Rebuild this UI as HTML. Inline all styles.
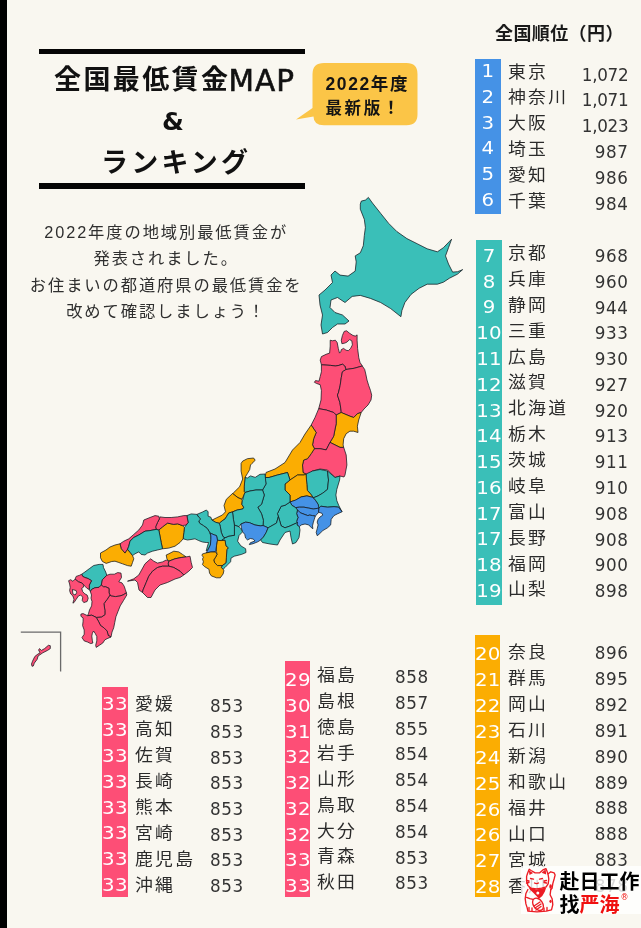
<!DOCTYPE html>
<html lang="ja"><head><meta charset="utf-8"><title>全国最低賃金MAP &amp; ランキング</title>
<style>
*{margin:0;padding:0;box-sizing:border-box}
html,body{width:641px;height:928px;overflow:hidden;background:#f9f7f0}
body{position:relative;font-family:"Liberation Sans","Noto Sans CJK JP",sans-serif;color:#333333}
.abs{position:absolute}
.bar{position:absolute}
.rk{position:absolute;color:#fff;text-align:center;font-size:17.5px;height:20px;line-height:20px;font-family:"DejaVu Sans",sans-serif;letter-spacing:0.3px;text-indent:0.3px;white-space:nowrap;transform:scaleX(1.13)}
.nm{position:absolute;font-size:16.5px;height:20px;line-height:20px;letter-spacing:2.1px;white-space:nowrap;color:#2b2b2b;font-weight:400;transform:scaleX(1.08);transform-origin:0 0}
.nv{position:absolute;font-size:16.8px;height:20px;line-height:20px;font-family:"DejaVu Sans",sans-serif;white-space:nowrap;color:#333;text-align:right;letter-spacing:0.5px}
.nv.style2{letter-spacing:-0.3px}
.ttl{position:absolute;font-weight:bold;color:#111;white-space:nowrap}
.rule{position:absolute;background:#050505}
.intro{position:absolute;left:18.2px;top:219px;width:296px;text-align:center;font-size:16.3px;line-height:26.3px;letter-spacing:1.9px;color:#2f2f2f}
</style></head><body>
<div class="abs" style="left:0;top:0;width:7.4px;height:928px;background:#000"></div>
<svg class="abs" style="left:0;top:0" width="641" height="928" viewBox="0 0 641 928">
<g stroke="#10161c" stroke-opacity="0.78" stroke-width="0.95" stroke-linejoin="round">
<path fill="#3abfb8" d="M361.3 201.1 L365.4 200.1 L368.4 197.4 L372.5 203.1 L380.6 213.3 L388.7 223.4 L396.8 231.5 L406.9 238.6 L417.1 243.7 L427.2 248.8 L437.4 251.8 L443.4 247.7 L451.6 239.2 L448.5 247.7 L445.5 255.9 L448.5 264.0 L452.6 272.1 L457.6 271.7 L462.7 269.6 L457.6 274.1 L449.5 278.2 L443.4 282.2 L437.4 284.2 L427.2 284.2 L419.1 288.3 L411.0 294.4 L404.9 302.5 L401.9 310.6 L400.9 316.7 L390.7 308.6 L380.6 302.5 L370.4 298.4 L360.3 295.4 L352.2 296.4 L345.0 302.5 L337.5 297.5 L331.0 300.0 L330.0 307.5 L335.0 312.5 L342.5 315.0 L349.0 321.0 L345.0 324.0 L337.5 324.0 L332.5 327.5 L327.5 332.5 L322.5 334.0 L321.0 325.0 L322.5 315.0 L320.0 305.0 L319.0 295.0 L325.0 290.0 L332.5 282.5 L331.0 275.0 L335.0 271.0 L340.0 275.1 L348.1 276.1 L355.2 271.1 L356.2 261.9 L355.2 255.9 L360.3 252.8 L363.3 245.7 L364.3 235.6 L365.4 227.5 L364.3 219.3 L360.3 209.2 L360.3 204.1Z"/>
<path fill="#fd4e76" d="M321.4 364.8 L320.2 360.1 L321.4 356.6 L326.1 354.3 L329.6 353.1 L330.2 346.1 L330.2 340.2 L332.5 340.8 L335.4 340.2 L337.2 342.6 L338.3 348.4 L339.5 353.1 L340.7 351.9 L341.3 349.6 L343.6 348.4 L346.0 350.2 L348.3 350.7 L350.6 348.4 L352.4 344.9 L351.8 340.8 L349.5 339.6 L347.1 342.0 L344.8 343.1 L341.9 343.7 L341.3 340.2 L342.4 335.5 L344.2 331.4 L346.5 330.8 L349.5 333.2 L353.0 335.5 L355.3 336.1 L357.1 334.9 L357.1 340.2 L357.6 348.4 L358.8 357.8 L360.0 362.4 L362.3 366.0 L354.1 368.3 L346.0 369.5 L344.8 366.0 L342.4 364.2 L338.9 365.4 L335.4 366.0 L330.7 365.4Z"/>
<path fill="#fd4e76" d="M321.4 364.8 L330.7 365.4 L335.4 366.0 L338.9 365.4 L342.4 364.2 L344.8 366.0 L346.0 369.5 L342.4 371.8 L341.3 377.6 L340.1 385.8 L338.4 392.9 L337.4 395.0 L339.9 402.5 L341.2 411.2 L341.2 412.5 L336.2 415.0 L333.7 412.5 L326.2 410.0 L318.7 408.7 L321.0 400.0 L321.4 390.5 L320.2 384.7 L316.7 383.5 L314.4 382.3 L315.5 380.6 L319.0 381.2 L320.2 376.5 L321.4 371.8Z"/>
<path fill="#fd4e76" d="M346.0 369.5 L354.1 368.3 L362.3 366.0 L364.7 369.5 L365.8 374.1 L367.0 380.0 L368.8 385.8 L370.5 390.5 L371.7 395.2 L371.0 400.0 L368.0 405.0 L364.0 409.0 L361.2 412.5 L357.4 413.7 L353.7 417.5 L349.9 416.2 L341.2 412.5 L341.2 411.2 L339.9 402.5 L337.4 395.0 L338.4 392.9 L340.1 385.8 L341.3 377.6 L342.4 371.8Z"/>
<path fill="#fbad02" d="M336.2 415.0 L341.2 412.5 L349.9 416.2 L353.7 417.5 L357.4 413.7 L361.2 412.5 L358.7 420.0 L357.4 426.2 L358.0 432.5 L353.7 431.2 L349.9 431.2 L346.2 433.7 L343.7 438.7 L343.1 444.9 L343.7 447.4 L340.0 447.4 L335.0 444.9 L330.0 442.4 L333.7 436.2 L334.9 429.9 L336.2 423.7Z"/>
<path fill="#fd4e76" d="M318.7 408.7 L326.2 410.0 L333.7 412.5 L336.2 415.0 L336.2 423.7 L334.9 429.9 L333.7 436.2 L330.0 442.4 L326.2 449.9 L320.0 448.7 L314.4 448.7 L312.5 444.9 L313.7 438.7 L316.2 432.5 L311.2 425.0 L315.0 417.5Z"/>
<path fill="#fd4e76" d="M314.4 448.7 L320.0 448.7 L326.2 449.9 L330.0 442.4 L335.0 444.9 L340.0 447.4 L343.7 447.4 L346.2 455.0 L346.9 465.0 L345.0 475.0 L344.0 477.0 L340.0 476.0 L335.0 477.5 L327.5 470.0 L320.0 469.0 L312.5 471.0 L307.5 475.0 L303.0 472.5 L302.5 465.0 L303.7 460.0 L307.5 458.7 L311.2 453.7Z"/>
<path fill="#fbad02" d="M311.2 425.0 L316.2 432.5 L313.7 438.7 L312.5 444.9 L314.4 448.7 L311.2 453.7 L307.5 458.7 L303.7 460.0 L302.5 465.0 L303.0 472.5 L307.5 475.0 L304.0 475.0 L297.5 475.0 L290.0 480.0 L287.5 472.5 L277.5 475.0 L269.0 477.5 L265.0 477.5 L266.0 472.5 L275.0 469.0 L285.0 462.5 L292.5 450.0 L300.0 442.5 L305.0 434.0Z"/>
<path fill="#3abfb8" d="M306.0 474.0 L312.5 471.0 L320.0 469.5 L327.5 471.0 L328.5 480.0 L327.5 489.4 L322.8 493.1 L318.1 495.9 L313.4 497.8 L310.6 494.0 L307.3 490.3 L306.9 484.7Z"/>
<path fill="#3abfb8" d="M327.5 471.0 L335.0 477.5 L340.0 476.0 L339.6 480.0 L336.8 489.4 L335.9 495.0 L336.8 500.6 L338.7 505.3 L342.0 511.8 L338.7 507.2 L334.0 506.7 L327.5 507.2 L320.9 506.2 L319.0 508.1 L318.1 504.3 L315.3 500.1 L313.4 497.8 L318.1 495.9 L322.8 493.1 L327.5 489.4 L328.5 480.0Z"/>
<path fill="#fbad02" d="M285.0 484.0 L290.0 480.0 L297.5 475.0 L304.0 475.0 L306.0 474.0 L306.9 484.7 L307.3 490.3 L310.6 494.0 L313.4 497.8 L312.5 497.3 L306.9 495.9 L301.2 496.9 L295.6 500.1 L290.0 502.0 L290.0 495.0 L285.0 490.0Z"/>
<path fill="#4592e6" d="M290.0 502.0 L295.6 500.1 L301.2 496.9 L306.9 495.9 L312.5 497.3 L315.3 500.1 L318.1 504.3 L319.0 508.1 L313.4 509.0 L308.7 508.1 L304.0 507.2 L299.4 507.2 L295.6 507.6 L291.9 505.3Z"/>
<path fill="#4592e6" d="M295.6 507.6 L299.4 507.2 L304.0 507.2 L308.7 508.1 L313.4 509.0 L319.0 508.1 L318.6 512.3 L317.2 514.2 L315.3 516.0 L312.5 515.6 L309.7 515.1 L307.8 515.6 L304.0 514.2 L300.3 512.8 L297.5 510.0Z"/>
<path fill="#4592e6" d="M297.5 510.0 L300.3 512.8 L304.0 514.2 L307.8 515.6 L309.7 515.1 L312.5 515.6 L315.3 516.0 L314.3 519.3 L313.4 522.1 L312.5 525.9 L312.9 528.7 L311.5 527.8 L308.7 524.9 L305.0 524.0 L301.2 524.9 L299.4 526.8 L297.0 524.9 L296.6 521.2 L298.0 517.5 L296.6 513.7Z"/>
<path fill="#4592e6" d="M319.0 508.1 L320.9 506.2 L327.5 507.2 L334.0 506.7 L338.7 507.2 L342.0 511.8 L337.8 513.7 L334.0 515.6 L331.2 519.3 L330.7 524.9 L327.5 527.8 L322.8 530.6 L319.0 534.3 L317.2 535.7 L316.2 532.4 L317.2 528.7 L318.1 524.9 L317.2 522.1 L318.1 519.3 L320.0 517.0 L322.8 515.1 L321.8 513.2 L318.6 512.3Z"/>
<path fill="#3abfb8" d="M285.0 505.3 L290.0 502.0 L291.9 505.3 L295.6 507.6 L297.5 510.0 L296.6 513.7 L298.0 517.5 L296.6 521.2 L297.5 522.5 L290.0 526.0 L285.0 527.8 L281.2 525.9 L278.4 516.5 L277.4 513.7 L281.2 506.2Z"/>
<path fill="#3abfb8" d="M265.0 477.5 L269.0 477.5 L277.5 475.0 L287.5 472.5 L290.0 480.0 L285.0 484.0 L285.0 490.0 L290.0 495.0 L290.0 502.0 L285.0 505.3 L281.2 506.2 L277.4 513.7 L278.4 516.5 L276.5 523.1 L268.1 527.8 L263.0 525.5 L263.4 520.3 L261.5 513.7 L257.8 507.2 L261.5 504.4 L264.3 495.0 L262.5 490.0 L266.0 484.0Z"/>
<path fill="#3abfb8" d="M245.0 477.4 L247.4 478.0 L250.5 475.9 L255.2 477.4 L260.0 474.3 L265.0 474.0 L266.0 484.0 L262.5 490.0 L256.0 490.0 L250.0 491.0 L245.0 492.5 L244.2 491.5 L244.2 486.8Z"/>
<path fill="#fbad02" d="M241.1 463.4 L242.7 461.1 L247.4 458.7 L253.6 458.0 L255.2 460.3 L252.0 463.4 L250.5 465.0 L249.7 469.6 L247.4 473.5 L245.0 477.4 L244.2 486.8 L244.2 491.5 L245.0 492.5 L244.0 495.0 L241.9 499.3 L238.0 497.7 L232.5 493.5 L233.3 493.0 L239.6 486.8 L242.7 479.0 L241.1 471.2Z"/>
<path fill="#fbad02" d="M232.5 493.5 L238.0 497.7 L241.9 499.3 L242.3 500.6 L241.9 504.4 L243.7 507.2 L242.8 509.0 L237.2 510.0 L232.5 511.9 L228.7 513.0 L226.8 516.2 L225.0 519.0 L222.1 520.9 L219.3 523.3 L215.6 522.3 L211.8 520.0 L213.0 519.6 L216.2 518.0 L222.4 515.0 L225.5 511.8 L224.0 505.5 L226.3 499.3Z"/>
<path fill="#3abfb8" d="M245.0 492.5 L250.0 491.0 L256.0 490.0 L262.5 490.0 L264.3 495.0 L261.5 504.4 L257.8 507.2 L261.5 513.7 L263.4 520.3 L263.0 525.5 L260.6 525.9 L255.0 525.0 L249.3 522.6 L245.6 522.2 L240.9 524.0 L239.0 526.8 L234.4 525.0 L233.4 519.3 L232.5 511.9 L237.2 510.0 L242.8 509.0 L243.7 507.2 L241.9 504.4 L242.3 500.6 L242.8 499.7 L244.0 495.0Z"/>
<path fill="#4592e6" d="M240.9 524.0 L245.6 522.2 L249.3 522.6 L255.0 525.0 L260.6 525.9 L263.0 525.5 L268.1 527.8 L266.2 532.5 L263.4 537.1 L260.6 540.0 L257.8 541.8 L253.1 543.7 L249.3 544.6 L250.3 542.8 L255.0 540.9 L253.1 539.0 L250.3 538.5 L247.5 539.9 L245.6 538.1 L244.7 534.3 L242.3 531.5 L241.4 527.8Z"/>
<path fill="#3abfb8" d="M268.1 527.8 L276.5 523.1 L278.4 516.5 L281.2 525.9 L285.0 527.8 L290.0 526.0 L297.5 522.5 L297.0 524.9 L299.4 526.8 L300.0 530.0 L299.0 537.5 L296.0 542.5 L292.5 544.0 L291.0 537.5 L290.0 531.0 L285.0 532.5 L280.0 540.0 L277.5 545.0 L270.0 544.0 L262.5 542.5 L260.6 540.0 L263.4 537.1 L266.2 532.5Z"/>
<path fill="#3abfb8" d="M224.9 537.8 L229.0 536.0 L234.4 535.3 L234.4 525.0 L239.0 526.8 L240.9 528.7 L242.3 531.5 L241.9 532.5 L239.0 535.6 L237.6 541.2 L240.9 545.9 L245.6 548.7 L246.0 552.5 L241.8 554.3 L238.0 555.3 L234.3 556.2 L231.0 558.1 L230.6 561.8 L227.8 564.6 L225.0 567.5 L223.1 569.3 L221.2 567.5 L222.2 565.6 L225.9 562.8 L226.4 557.2 L226.8 549.7 L228.2 547.8 L225.9 545.9 L225.0 540.3 L221.2 540.6Z"/>
<path fill="#3abfb8" d="M219.3 523.3 L222.1 520.9 L225.0 519.0 L226.8 516.2 L228.7 513.0 L232.5 511.9 L233.4 519.3 L234.4 525.0 L234.4 535.3 L229.0 536.0 L224.9 537.8 L223.1 536.8 L221.2 532.2 L220.3 526.5Z"/>
<path fill="#3abfb8" d="M196.9 514.4 L202.5 512.0 L206.2 510.1 L208.1 511.6 L208.1 516.2 L210.9 517.2 L211.8 520.0 L215.6 522.3 L219.3 523.3 L220.3 526.5 L221.2 532.2 L223.1 536.8 L224.9 537.8 L221.2 540.6 L217.5 540.3 L216.5 535.6 L214.6 535.0 L210.0 533.1 L209.0 531.2 L207.2 528.4 L203.4 525.6 L199.7 523.3 L198.7 520.9 L200.6 519.0 L198.7 517.2Z"/>
<path fill="#3abfb8" d="M186.9 515.6 L191.2 513.9 L196.9 514.4 L198.7 517.2 L200.6 519.0 L198.7 520.9 L199.7 523.3 L203.4 525.6 L207.2 528.4 L209.0 531.2 L210.0 533.1 L210.9 535.9 L210.9 539.4 L210.4 545.0 L208.1 549.7 L206.2 550.9 L207.5 546.0 L208.6 542.5 L206.2 542.5 L202.5 542.0 L198.7 540.6 L195.0 538.8 L191.0 539.5 L187.5 540.0 L183.1 538.8 L183.8 532.5 L184.4 527.5 L186.2 525.0 L188.1 522.5Z"/>
<path fill="#4592e6" d="M210.0 533.1 L214.6 535.0 L216.5 535.6 L217.5 540.3 L216.5 545.9 L215.6 551.5 L210.9 552.0 L206.2 552.9 L208.1 549.7 L210.4 545.0 L210.9 539.4 L210.9 535.9Z"/>
<path fill="#fbad02" d="M217.5 540.3 L221.2 540.6 L225.0 540.3 L225.9 545.9 L228.2 547.8 L226.8 549.7 L226.4 557.2 L225.9 562.8 L222.2 565.6 L217.5 565.6 L214.7 562.8 L213.7 560.0 L215.6 557.2 L217.0 554.3 L216.5 551.5 L216.5 545.9Z"/>
<path fill="#fbad02" d="M202.5 553.9 L206.2 552.9 L210.9 552.0 L215.6 552.0 L217.0 554.3 L215.6 557.2 L213.7 560.0 L214.7 562.8 L217.5 565.6 L222.2 565.6 L221.2 567.5 L224.0 570.3 L223.1 574.0 L220.3 577.8 L216.5 577.8 L211.4 575.9 L209.5 573.1 L209.0 569.3 L204.4 566.5 L202.5 564.6 L203.4 561.8 L202.5 559.0 L203.4 557.2 L202.0 555.3Z"/>
<path fill="#fbad02" d="M158.8 530.0 L162.5 526.9 L167.5 523.1 L173.8 524.4 L177.5 523.8 L182.5 525.6 L184.4 527.5 L183.8 532.5 L183.1 538.8 L180.0 542.5 L175.0 546.2 L168.8 548.1 L162.5 548.8 L161.2 542.5 L160.0 536.2Z"/>
<path fill="#fd4e76" d="M159.4 518.8 L160.0 516.9 L165.0 517.5 L171.2 517.5 L177.5 516.9 L183.8 515.6 L186.9 515.6 L188.1 522.5 L186.2 525.0 L182.5 525.6 L177.5 523.8 L173.8 524.4 L167.5 523.1 L162.5 526.9 L158.8 530.0 L156.2 529.4 L155.6 526.9 L157.5 522.5Z"/>
<path fill="#fd4e76" d="M120.0 543.8 L123.8 541.2 L128.8 538.8 L133.8 534.4 L138.8 530.0 L142.5 525.0 L143.8 520.0 L150.0 517.5 L155.0 515.6 L158.8 516.2 L159.4 518.8 L157.5 522.5 L155.6 526.9 L156.2 529.4 L150.0 530.6 L145.0 531.2 L138.8 535.0 L133.8 537.5 L130.0 541.2 L128.8 546.2 L127.5 549.4 L125.0 553.1 L121.2 548.8Z"/>
<path fill="#3abfb8" d="M130.0 541.2 L133.8 537.5 L138.8 535.0 L145.0 531.2 L150.0 530.6 L156.2 529.4 L158.8 530.0 L160.0 536.2 L161.2 542.5 L162.5 548.8 L157.5 550.0 L152.5 551.2 L147.5 553.1 L145.0 555.0 L141.2 554.4 L138.8 551.9 L135.0 553.8 L132.5 555.6 L130.0 552.5 L127.5 549.4 L128.8 546.2Z"/>
<path fill="#fbad02" d="M100.5 553.0 L106.0 550.0 L110.0 547.0 L115.0 545.0 L120.0 543.8 L121.2 548.8 L125.0 553.1 L127.5 549.4 L130.0 552.5 L132.5 555.6 L133.8 558.8 L132.5 562.5 L131.2 566.2 L127.5 565.6 L122.5 563.8 L118.8 562.5 L115.0 561.2 L111.8 561.5 L106.2 563.4 L102.4 561.5 L100.5 557.8Z"/>
<path fill="#fbad02" d="M166.2 555.0 L168.8 553.8 L173.8 551.2 L178.8 551.9 L182.5 554.4 L186.2 556.9 L181.2 557.5 L175.0 558.8 L168.8 561.2 L166.9 558.8Z"/>
<path fill="#fd4e76" d="M168.8 561.2 L175.0 558.8 L181.2 557.5 L186.2 556.9 L190.0 556.2 L191.2 562.5 L192.5 567.5 L188.8 571.2 L183.8 575.0 L180.0 571.2 L173.8 567.5 L168.8 566.2 L168.1 563.8Z"/>
<path fill="#fd4e76" d="M127.5 581.2 L133.8 578.8 L138.8 575.0 L145.0 563.8 L150.6 558.8 L153.8 561.2 L157.5 563.1 L162.5 561.9 L166.2 560.0 L168.8 561.2 L168.1 563.8 L168.8 566.2 L162.5 566.2 L157.5 567.5 L152.5 571.2 L148.8 576.2 L146.2 582.5 L143.0 590.0 L142.5 592.5 L139.0 590.0 L137.5 582.5 L135.0 580.0Z"/>
<path fill="#fd4e76" d="M142.5 592.5 L143.0 590.0 L146.2 582.5 L148.8 576.2 L152.5 571.2 L157.5 567.5 L162.5 566.2 L168.8 566.2 L173.8 567.5 L180.0 571.2 L183.8 575.0 L180.0 577.5 L175.0 579.0 L167.5 582.5 L160.0 585.0 L155.0 590.0 L151.0 597.5 L147.5 597.5 L145.0 595.0Z"/>
<path fill="#3abfb8" d="M81.7 574.2 L84.9 572.0 L89.3 568.7 L93.7 565.5 L99.1 564.4 L103.0 564.4 L103.5 567.6 L105.7 572.0 L106.8 575.3 L102.4 579.7 L101.3 585.1 L99.1 587.3 L94.8 587.8 L91.5 589.5 L90.4 591.7 L89.3 589.5 L89.3 585.1 L91.5 580.7 L88.2 578.6 L84.9 577.5 L82.7 576.4Z"/>
<path fill="#fd4e76" d="M106.8 575.3 L110.0 574.2 L114.4 574.2 L117.7 572.6 L121.0 573.1 L121.5 577.5 L118.8 581.8 L122.0 582.9 L124.2 586.2 L125.3 589.5 L126.4 592.8 L123.2 594.9 L119.9 596.0 L115.5 596.6 L111.1 596.0 L110.0 595.0 L109.0 592.8 L109.0 588.4 L105.7 586.8 L103.5 586.8 L101.3 585.1 L102.4 579.7Z"/>
<path fill="#fd4e76" d="M110.0 595.0 L111.1 596.0 L115.5 596.6 L119.9 596.0 L123.2 594.9 L126.4 592.8 L126.8 595.0 L123.5 600.5 L120.2 605.9 L118.0 611.4 L115.9 616.8 L114.8 622.3 L113.7 627.8 L112.0 632.1 L111.0 637.0 L108.2 635.4 L107.1 631.0 L103.9 627.8 L100.6 625.6 L98.4 621.2 L96.2 617.4 L101.7 616.8 L104.9 614.7 L104.9 610.3 L103.9 603.7 L107.1 599.4Z"/>
<path fill="#fd4e76" d="M90.4 591.7 L91.5 589.5 L94.8 587.8 L99.1 587.3 L101.3 585.1 L103.5 586.8 L105.7 586.8 L109.0 588.4 L109.0 592.8 L110.0 595.0 L107.1 599.4 L103.9 603.7 L104.9 610.3 L104.9 614.7 L101.7 616.8 L96.2 617.4 L91.8 615.2 L87.5 615.7 L88.5 613.5 L89.5 610.0 L91.6 605.9 L92.0 601.5 L91.0 598.2 L91.5 595.0Z"/>
<path fill="#fd4e76" d="M80.9 614.1 L83.1 613.6 L87.5 615.7 L91.8 615.2 L96.2 617.4 L98.4 621.2 L100.6 625.6 L103.9 627.8 L107.1 631.0 L108.2 635.4 L111.0 637.0 L107.1 638.7 L104.9 639.8 L102.8 643.0 L99.5 645.2 L96.2 647.4 L95.7 645.2 L96.8 640.9 L96.8 636.5 L95.1 633.2 L93.5 631.0 L92.4 633.2 L91.8 636.0 L92.4 640.9 L92.9 643.0 L90.7 643.6 L87.5 642.0 L84.2 640.9 L82.0 637.6 L84.2 634.3 L84.2 630.0 L82.6 625.6 L83.1 621.2 L83.1 617.9 L80.9 616.3Z"/>
<path fill="#fd4e76" d="M76.2 576.4 L79.5 575.3 L81.7 574.2 L82.7 576.4 L84.9 577.5 L88.2 578.6 L91.5 580.7 L89.3 585.1 L89.3 589.5 L87.1 588.4 L84.9 586.2 L83.8 585.1 L81.7 582.9 L78.4 581.8 L75.1 579.1Z"/>
<path fill="#fd4e76" d="M68.6 580.7 L70.7 579.7 L72.9 581.3 L75.1 579.1 L78.4 581.8 L81.7 582.9 L83.8 585.1 L83.3 587.3 L81.7 588.4 L82.7 591.7 L84.9 593.9 L87.1 595.0 L88.2 598.2 L87.1 601.5 L83.8 602.6 L82.2 600.4 L82.7 597.1 L80.6 595.0 L78.4 596.0 L76.2 599.3 L74.0 602.6 L72.9 603.1 L74.0 599.3 L72.9 596.0 L70.7 593.9 L69.6 590.6 L70.2 587.3 L69.6 584.0Z"/>
<path fill="#f9f7f0" d="M72.4 589.5 L76.2 590.6 L76.7 592.8 L75.1 595.0 L72.9 593.9Z"/>
<path fill="#fd4e76" d="M31.5 664.0 L32.5 661.2 L34.8 656.5 L37.2 654.6 L40.0 652.8 L38.6 650.0 L39.5 648.6 L41.4 650.4 L44.6 648.6 L48.4 645.3 L50.3 645.7 L50.3 648.6 L47.5 650.4 L42.8 652.8 L38.1 656.0 L37.2 659.3 L34.3 663.1 L33.4 665.9 L32.0 666.3Z"/>
</g>
<path d="M20.8 632.2 H60.6 V671.5" fill="none" stroke="#6a6a6a" stroke-width="1.3"/>
</svg>
<div class="rule" style="left:39px;top:48.5px;width:266px;height:5.5px"></div>
<div class="rule" style="left:39px;top:183.3px;width:266px;height:5.7px"></div>
<div class="ttl" style="left:54px;top:62px;font-size:27px;line-height:34px;letter-spacing:2.4px">全国最低賃金<span style="position:relative;top:1.6px;margin-left:-1.8px;font-size:29.5px;letter-spacing:1px;font-family:'DejaVu Sans',sans-serif;font-weight:normal;-webkit-text-stroke:0.6px #111">MAP</span></div>
<div class="ttl" style="left:39px;top:105px;width:266px;text-align:center;font-size:25px;line-height:34px;padding-left:2px;font-family:'DejaVu Sans',sans-serif">&amp;</div>
<div class="ttl" style="left:101px;top:145.8px;font-size:27px;line-height:34px;letter-spacing:3.2px">ランキング</div>
<svg class="abs" style="left:0;top:0" width="641" height="140" viewBox="0 0 641 140">
<path d="M324 63 H406.5 Q417.5 63 417.5 74 V114.2 Q417.5 125.2 406.5 125.2 H324 Q313.5 125.2 313.5 116.5 L296 119.6 L312.5 108 V74 Q312.5 63 324 63Z" fill="#fbc547"/>
</svg>
<div class="ttl" style="left:325.5px;top:72px;font-size:17.5px;line-height:24px;color:#141414;letter-spacing:1.6px">2022年度</div>
<div class="ttl" style="left:325.5px;top:96px;font-size:16.5px;line-height:24px;color:#141414;letter-spacing:2.6px">最新版！</div>
<div class="intro">2022年度の地域別最低賃金が<br>発表されました。<br>お住まいの都道府県の最低賃金を<br>改めて確認しましょう！</div>
<div class="ttl" style="left:495px;top:20.5px;font-size:18px;line-height:26px;color:#1a1a1a;letter-spacing:0.4px">全国順位（円）</div>
<div class="bar" style="left:475px;top:59px;width:25.6px;height:155.0px;background:#4592e6"></div>
<div class="rk" style="left:475px;top:60.9px;width:25.6px">1</div>
<div class="nm" style="left:507.8px;top:61.5px">東京</div>
<div class="nv style2" style="right:12.7px;top:64.5px">1,072</div>
<div class="rk" style="left:475px;top:86.7px;width:25.6px">2</div>
<div class="nm" style="left:507.8px;top:87.3px">神奈川</div>
<div class="nv style2" style="right:12.7px;top:90.4px">1,071</div>
<div class="rk" style="left:475px;top:112.5px;width:25.6px">3</div>
<div class="nm" style="left:507.8px;top:113.1px">大阪</div>
<div class="nv style2" style="right:12.7px;top:116.3px">1,023</div>
<div class="rk" style="left:475px;top:138.3px;width:25.6px">4</div>
<div class="nm" style="left:507.8px;top:138.9px">埼玉</div>
<div class="nv" style="right:12.7px;top:142.2px">987</div>
<div class="rk" style="left:475px;top:164.1px;width:25.6px">5</div>
<div class="nm" style="left:507.8px;top:164.7px">愛知</div>
<div class="nv" style="right:12.7px;top:168.1px">986</div>
<div class="rk" style="left:475px;top:189.9px;width:25.6px">6</div>
<div class="nm" style="left:507.8px;top:190.5px">千葉</div>
<div class="nv" style="right:12.7px;top:194.0px">984</div>
<div class="bar" style="left:476.4px;top:240.3px;width:25.9px;height:364.9px;background:#3abfb8"></div>
<div class="rk" style="left:476.4px;top:245.8px;width:25.9px">7</div>
<div class="nm" style="left:508.2px;top:243.0px">京都</div>
<div class="nv" style="right:12.7px;top:245.9px">968</div>
<div class="rk" style="left:476.4px;top:271.6px;width:25.9px">8</div>
<div class="nm" style="left:508.2px;top:268.9px">兵庫</div>
<div class="nv" style="right:12.7px;top:271.7px">960</div>
<div class="rk" style="left:476.4px;top:297.4px;width:25.9px">9</div>
<div class="nm" style="left:508.2px;top:294.8px">静岡</div>
<div class="nv" style="right:12.7px;top:297.5px">944</div>
<div class="rk" style="left:476.4px;top:323.1px;width:25.9px">10</div>
<div class="nm" style="left:508.2px;top:320.6px">三重</div>
<div class="nv" style="right:12.7px;top:323.3px">933</div>
<div class="rk" style="left:476.4px;top:348.9px;width:25.9px">11</div>
<div class="nm" style="left:508.2px;top:346.5px">広島</div>
<div class="nv" style="right:12.7px;top:349.1px">930</div>
<div class="rk" style="left:476.4px;top:374.7px;width:25.9px">12</div>
<div class="nm" style="left:508.2px;top:372.4px">滋賀</div>
<div class="nv" style="right:12.7px;top:374.9px">927</div>
<div class="rk" style="left:476.4px;top:400.5px;width:25.9px">13</div>
<div class="nm" style="left:508.2px;top:398.3px">北海道</div>
<div class="nv" style="right:12.7px;top:400.6px">920</div>
<div class="rk" style="left:476.4px;top:426.3px;width:25.9px">14</div>
<div class="nm" style="left:508.2px;top:424.2px">栃木</div>
<div class="nv" style="right:12.7px;top:426.4px">913</div>
<div class="rk" style="left:476.4px;top:452.0px;width:25.9px">15</div>
<div class="nm" style="left:508.2px;top:450.0px">茨城</div>
<div class="nv" style="right:12.7px;top:452.2px">911</div>
<div class="rk" style="left:476.4px;top:477.8px;width:25.9px">16</div>
<div class="nm" style="left:508.2px;top:475.9px">岐阜</div>
<div class="nv" style="right:12.7px;top:478.0px">910</div>
<div class="rk" style="left:476.4px;top:503.6px;width:25.9px">17</div>
<div class="nm" style="left:508.2px;top:501.8px">富山</div>
<div class="nv" style="right:12.7px;top:503.8px">908</div>
<div class="rk" style="left:476.4px;top:529.4px;width:25.9px">17</div>
<div class="nm" style="left:508.2px;top:527.7px">長野</div>
<div class="nv" style="right:12.7px;top:529.6px">908</div>
<div class="rk" style="left:476.4px;top:555.2px;width:25.9px">18</div>
<div class="nm" style="left:508.2px;top:553.6px">福岡</div>
<div class="nv" style="right:12.7px;top:555.4px">900</div>
<div class="rk" style="left:476.4px;top:580.9px;width:25.9px">19</div>
<div class="nm" style="left:508.2px;top:579.4px">山梨</div>
<div class="nv" style="right:12.7px;top:581.2px">898</div>
<div class="bar" style="left:475px;top:635.3px;width:25.4px;height:261.4px;background:#fbad02"></div>
<div class="rk" style="left:475px;top:644.1px;width:25.4px">20</div>
<div class="nm" style="left:508.2px;top:642.3px">奈良</div>
<div class="nv" style="right:12.7px;top:642.6px">896</div>
<div class="rk" style="left:475px;top:670.0px;width:25.4px">21</div>
<div class="nm" style="left:508.2px;top:668.2px">群馬</div>
<div class="nv" style="right:12.7px;top:668.6px">895</div>
<div class="rk" style="left:475px;top:695.9px;width:25.4px">22</div>
<div class="nm" style="left:508.2px;top:694.2px">岡山</div>
<div class="nv" style="right:12.7px;top:694.5px">892</div>
<div class="rk" style="left:475px;top:721.8px;width:25.4px">23</div>
<div class="nm" style="left:508.2px;top:720.1px">石川</div>
<div class="nv" style="right:12.7px;top:720.5px">891</div>
<div class="rk" style="left:475px;top:747.7px;width:25.4px">24</div>
<div class="nm" style="left:508.2px;top:746.0px">新潟</div>
<div class="nv" style="right:12.7px;top:746.5px">890</div>
<div class="rk" style="left:475px;top:773.6px;width:25.4px">25</div>
<div class="nm" style="left:508.2px;top:771.9px">和歌山</div>
<div class="nv" style="right:12.7px;top:772.5px">889</div>
<div class="rk" style="left:475px;top:799.5px;width:25.4px">26</div>
<div class="nm" style="left:508.2px;top:797.9px">福井</div>
<div class="nv" style="right:12.7px;top:798.4px">888</div>
<div class="rk" style="left:475px;top:825.4px;width:25.4px">26</div>
<div class="nm" style="left:508.2px;top:823.8px">山口</div>
<div class="nv" style="right:12.7px;top:824.4px">888</div>
<div class="rk" style="left:475px;top:851.3px;width:25.4px">27</div>
<div class="nm" style="left:508.2px;top:849.7px">宮城</div>
<div class="nv" style="right:12.7px;top:850.4px">883</div>
<div class="rk" style="left:475px;top:877.2px;width:25.4px">28</div>
<div class="nm" style="left:508.2px;top:875.7px">香川</div>
<div class="nv" style="right:12.7px;top:876.3px">878</div>
<div class="bar" style="left:284.6px;top:661.2px;width:25.6px;height:235.8px;background:#fd4e76"></div>
<div class="rk" style="left:284.6px;top:670.3px;width:25.6px">29</div>
<div class="nm" style="left:316.6px;top:665.1px">福島</div>
<div class="nv" style="right:212.4px;top:666.9px">858</div>
<div class="rk" style="left:284.6px;top:696.0px;width:25.6px">30</div>
<div class="nm" style="left:316.6px;top:691.0px">島根</div>
<div class="nv" style="right:212.4px;top:692.7px">857</div>
<div class="rk" style="left:284.6px;top:721.7px;width:25.6px">31</div>
<div class="nm" style="left:316.6px;top:716.9px">徳島</div>
<div class="nv" style="right:212.4px;top:718.5px">855</div>
<div class="rk" style="left:284.6px;top:747.4px;width:25.6px">32</div>
<div class="nm" style="left:316.6px;top:742.8px">岩手</div>
<div class="nv" style="right:212.4px;top:744.3px">854</div>
<div class="rk" style="left:284.6px;top:773.1px;width:25.6px">32</div>
<div class="nm" style="left:316.6px;top:768.7px">山形</div>
<div class="nv" style="right:212.4px;top:770.1px">854</div>
<div class="rk" style="left:284.6px;top:798.8px;width:25.6px">32</div>
<div class="nm" style="left:316.6px;top:794.6px">鳥取</div>
<div class="nv" style="right:212.4px;top:795.9px">854</div>
<div class="rk" style="left:284.6px;top:824.5px;width:25.6px">32</div>
<div class="nm" style="left:316.6px;top:820.5px">大分</div>
<div class="nv" style="right:212.4px;top:821.7px">854</div>
<div class="rk" style="left:284.6px;top:850.2px;width:25.6px">33</div>
<div class="nm" style="left:316.6px;top:846.4px">青森</div>
<div class="nv" style="right:212.4px;top:847.5px">853</div>
<div class="rk" style="left:284.6px;top:875.9px;width:25.6px">33</div>
<div class="nm" style="left:316.6px;top:872.3px">秋田</div>
<div class="nv" style="right:212.4px;top:873.3px">853</div>
<div class="bar" style="left:102px;top:687px;width:25.5px;height:210.0px;background:#fd4e76"></div>
<div class="rk" style="left:102px;top:694.4px;width:25.5px">33</div>
<div class="nm" style="left:134.8px;top:693.5px">愛媛</div>
<div class="nv" style="right:397.4px;top:696.1px">853</div>
<div class="rk" style="left:102px;top:720.2px;width:25.5px">33</div>
<div class="nm" style="left:134.8px;top:719.4px">高知</div>
<div class="nv" style="right:397.4px;top:721.8px">853</div>
<div class="rk" style="left:102px;top:746.0px;width:25.5px">33</div>
<div class="nm" style="left:134.8px;top:745.2px">佐賀</div>
<div class="nv" style="right:397.4px;top:747.5px">853</div>
<div class="rk" style="left:102px;top:771.8px;width:25.5px">33</div>
<div class="nm" style="left:134.8px;top:771.1px">長崎</div>
<div class="nv" style="right:397.4px;top:773.2px">853</div>
<div class="rk" style="left:102px;top:797.6px;width:25.5px">33</div>
<div class="nm" style="left:134.8px;top:796.9px">熊本</div>
<div class="nv" style="right:397.4px;top:798.9px">853</div>
<div class="rk" style="left:102px;top:823.4px;width:25.5px">33</div>
<div class="nm" style="left:134.8px;top:822.8px">宮崎</div>
<div class="nv" style="right:397.4px;top:824.6px">853</div>
<div class="rk" style="left:102px;top:849.2px;width:25.5px">33</div>
<div class="nm" style="left:134.8px;top:848.7px">鹿児島</div>
<div class="nv" style="right:397.4px;top:850.3px">853</div>
<div class="rk" style="left:102px;top:875.0px;width:25.5px">33</div>
<div class="nm" style="left:134.8px;top:874.5px">沖縄</div>
<div class="nv" style="right:397.4px;top:876.0px">853</div>
<div class="abs" style="left:521px;top:865.5px;width:120px;height:48.5px;background:rgba(255,255,255,0.8)"></div>
<svg class="abs" style="left:520px;top:862px" width="42" height="54" viewBox="0 0 42 54">
<g fill="none" stroke="#ec1c24" stroke-width="1.35" stroke-linejoin="round" stroke-linecap="round">
<path d="M7.5 11.5 L9.2 7.2 L11.1 8.5 L15.1 10.8 L19.7 10.8 L22.9 7.9 L25.9 6.6 L27.2 9.8 L28.2 13.1 L28.8 17 L28.2 21.6 L26.2 24.9 L21.6 26.2 L16.4 26.9 L11.1 26.2 L7.9 23.6 L6.6 19 L6.6 14.4 Z"/>
<path d="M28.2 11.8 L30.8 9.8 L34.1 10.8 L35.1 13.1 L34.1 17 L32.8 21.6 L32.1 26.2 L30.8 27.5"/>
<path d="M7.9 27.5 L5.9 31.5 L5.2 36.7 L5.9 41.9 L7.2 45.9 L7.9 49.1 L17 49.8 L26.2 49.1 L31.5 47.8 L32.8 42.6 L32.1 36.7 L30.1 32.8 L30.8 27.5"/>
<path d="M6.6 35.4 L9.8 36.7 L13.1 37.4"/>
<ellipse cx="18" cy="42.3" rx="4.6" ry="6.8" transform="rotate(-35 18 42.3)"/>
<path d="M10.5 16.5 l3 0.6 M19.5 17.1 l3 -0.6 M14.5 21 q2 1.2 4 0 M9 19 l-2.5 -0.5 M9 20.5 l-2.5 0.5 M24 19 l2.5 -0.5 M24 20.5 l2.5 0.5"/>
<path d="M14 44 l6 -4 M15 46 l6 -4 M16 48 l5 -3.5"/>
<path d="M9 48.5 v-3 M12 49 v-3 M24 49 v-3 M27 48.5 v-3"/>
</g>
<g fill="#ec1c24">
<path d="M8.8 8.2 L13.1 11.1 L9.5 13.1Z"/>
<path d="M25.6 7.2 L21.6 10.8 L26.2 12.5Z"/>
<path d="M8.5 24.9 L16.4 27.5 L26.2 25.6 L24.9 29.5 L22.3 34.1 L19 36.7 L16.4 34.1 L12.5 30.1 L9.8 27.5Z"/>
<ellipse cx="30.6" cy="24.5" rx="1.3" ry="2.3"/>
<ellipse cx="30.5" cy="39.3" rx="1.1" ry="1.6"/>
</g>
<circle cx="17.8" cy="31" r="1.5" fill="#fff"/>
</svg>

<div class="abs" style="left:559.5px;top:870.2px;font-size:20px;line-height:24px;font-weight:bold;color:#000;white-space:nowrap;font-family:'Liberation Sans','Noto Sans CJK SC',sans-serif">赴日工作</div>
<div class="abs" style="left:559.5px;top:892.5px;font-size:20px;line-height:24px;font-weight:bold;color:#000;white-space:nowrap;font-family:'Liberation Sans','Noto Sans CJK SC',sans-serif">找<span style="color:#f01010">严海</span></div>
<div class="abs" style="left:620.5px;top:893px;font-size:8px;line-height:10px;color:#f01010;font-family:'DejaVu Sans',sans-serif">®</div>
</body></html>
